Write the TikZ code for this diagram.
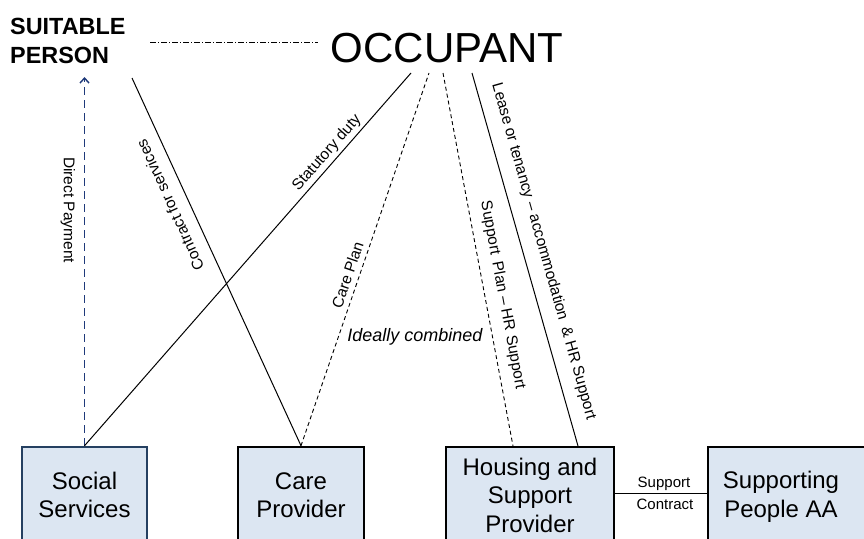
\documentclass[tikz,border=0pt]{standalone}
\usepackage{fontspec}
\setmainfont{Liberation Sans}
\usetikzlibrary{arrows.meta}
\definecolor{boxfill}{HTML}{DCE6F2}
\definecolor{ssborder}{HTML}{254061}
\definecolor{dpblue}{HTML}{1F3A7A}
\begin{document}
\begin{tikzpicture}[x=1pt,y=-1pt,
  box/.style={draw, line width=2.5pt, fill=boxfill, minimum height=96pt, inner sep=0pt, align=center, font=\fontsize{24}{28.5}\selectfont},
  boxtext/.style={inner sep=0pt, align=center, font=\fontsize{24}{28.5}\selectfont},
  lbl/.style={font=\fontsize{15.5}{18}\selectfont, inner sep=0pt},
  small/.style={font=\fontsize{15}{17}\selectfont, inner sep=0pt},
  link/.style={line width=1pt},
  dlink/.style={line width=0.9pt, dash pattern=on 4pt off 3pt},
  dplink/.style={line width=1.4pt, draw=dpblue, dash pattern=on 8pt off 5pt, -{Straight Barb[length=5pt,width=9pt]}},
  ddlink/.style={line width=0.8pt, dash pattern=on 6pt off 2pt on 1pt off 2pt}]

\useasboundingbox (0,0) rectangle (864,538);
\clip (0,0) rectangle (864,538);

% boxes
\node[box, draw=ssborder, minimum width=125pt] (ss) at (84.5,495) {Social\\Services};
\node[box, minimum width=126pt] (cp) at (301,495) {Care\\Provider};
\node[box, minimum width=168pt] (hs) at (530,495) {Housing and\\Support\\Provider};
\node[box, minimum width=162pt] (sp) at (789,495) {};
\node[boxtext] (spt) at (781,497) {Supporting\\People AA};

% top texts
\node[font=\fontsize{42}{48}\selectfont, inner sep=0pt] (occ) at (447,48) {OCCUPANT};
\node[font=\bfseries\fontsize{23.4}{29}\selectfont, align=left, inner sep=0pt, anchor=west] (suit) at (10,41) {SUITABLE\\PERSON};

% coordinates
\coordinate (dd1) at (150,42);
\coordinate (dd2) at (318,42);
\coordinate (o1) at (411,73);
\coordinate (o2) at (429,73);
\coordinate (o3) at (443,73);
\coordinate (o4) at (472,73);
\coordinate (spa) at (84.5,77);
\coordinate (spb) at (132,78);
\coordinate (h1) at (513,446);
\coordinate (h2) at (578,446);

% connectors
\draw[ddlink] (dd1) -- (dd2);
\draw[dplink] (ss.north) -- (spa);
\draw[link] (spb) -- (cp.north);
\draw[link] (ss.north) -- (o1);
\draw[dlink] (cp.north) -- (o2);
\draw[dlink] (o3) -- (h1);
\draw[link] (o4) -- (h2);
\draw[link] ([yshift=2pt]hs.east) -- ([yshift=2pt]sp.west);

% labels
\node[lbl, rotate=-90] at (68,210) {Direct Payment};
\node[lbl, rotate=114.5] at (170,205) {Contract for services};
\node[lbl, rotate=48.8] at (327,153) {Statutory duty};
\node[lbl, rotate=71.1] at (347.5,275) {Care Plan};
\node[font=\itshape\fontsize{18}{21}\selectfont, inner sep=0pt] at (415,337) {Ideally combined};
\node[lbl, rotate=-79.4] at (502.5,295) {Support\hspace{3pt} Plan – HR Support};
\node[lbl, rotate=-74.2] at (543.5,251.5) {Lease or tenancy – accommodation\hspace{3pt} \& HR Support};
\node[small] at (664,484) {Support};
\node[small] at (665,504) {Contract};
\end{tikzpicture}
\end{document}
